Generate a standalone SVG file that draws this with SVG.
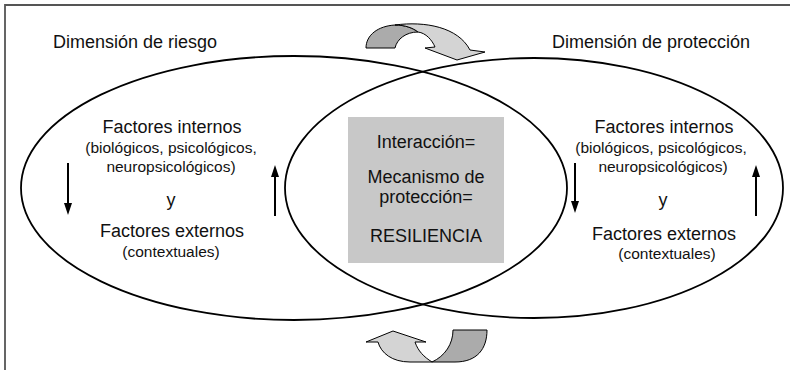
<svg xmlns="http://www.w3.org/2000/svg" width="795" height="382" viewBox="0 0 795 382">
<style>
  text { font-family: "Liberation Sans", Arial, sans-serif; fill: #111; text-anchor: middle; }
  .big { font-size: 18px; }
  .small { font-size: 15.5px; }
  .ell { fill: none; stroke: #000; stroke-width: 1.8; }
  .arr { stroke: #000; stroke-width: 2; fill: none; }
  .head { fill: #000; }
  .light { fill: #d4d4d4; stroke: #000; stroke-width: 1; stroke-linejoin: round; }
  .dark { fill: #ababab; stroke: #000; stroke-width: 1; stroke-linejoin: round; }
</style>
<rect width="795" height="382" fill="#fff"/>
<path d="M5,370 L5,5 L790,5" fill="none" stroke="#555" stroke-width="1.8"/>

<g id="ellipses">
  <ellipse id="riesgo-ellipse" class="ell" cx="294" cy="188" rx="273" ry="132"/>
  <ellipse id="proteccion-ellipse" class="ell" cx="534" cy="188" rx="249" ry="130"/>
</g>

<g id="titles">
  <text class="big" x="135" y="48">Dimensión de riesgo</text>
  <text class="big" x="651" y="48">Dimensión de protección</text>
</g>

<g id="left-node">
  <text class="big" x="172" y="133">Factores internos</text>
  <text class="small" x="171" y="153">(biológicos, psicológicos,</text>
  <text class="small" x="171" y="172">neuropsicológicos)</text>
  <text class="big" x="171" y="206">y</text>
  <text class="big" x="172" y="237">Factores externos</text>
  <text class="small" x="171" y="257">(contextuales)</text>
</g>

<g id="center-node">
  <rect x="348" y="117" width="156" height="146" fill="#c8c8c8"/>
  <text class="big" x="426" y="148">Interacción=</text>
  <text class="big" x="426" y="183">Mecanismo de</text>
  <text class="big" x="426" y="203">protección=</text>
  <text class="big" x="426" y="242">RESILIENCIA</text>
</g>

<g id="right-node">
  <text class="big" x="664" y="133">Factores internos</text>
  <text class="small" x="661" y="153">(biológicos, psicológicos,</text>
  <text class="small" x="663" y="172">neuropsicológicos)</text>
  <text class="big" x="663" y="206">y</text>
  <text class="big" x="664" y="240">Factores externos</text>
  <text class="small" x="667" y="259">(contextuales)</text>
</g>

<g id="connectors">
  <line class="arr" x1="68" y1="163" x2="68" y2="204"/>
  <path class="head" d="M64,203 L72,203 L68,215 Z"/>
  <line class="arr" x1="275" y1="216" x2="275" y2="176"/>
  <path class="head" d="M271,177 L279,177 L275,165 Z"/>
  <line class="arr" x1="575" y1="163" x2="575" y2="202"/>
  <path class="head" d="M571,201 L579,201 L575,213 Z"/>
  <line class="arr" x1="756" y1="216" x2="756" y2="176"/>
  <path class="head" d="M752,177 L760,177 L756,165 Z"/>

  <g id="top-curved-arrow">
    <path class="dark" d="M366,48 C366,35 378,26 395,25 C405,25 413,28 418,32 C406,32 397,39 395,48 Z"/>
    <path class="light" d="M395,25 C425,21 458,27 470,50 L485,52 L457,60 L425,48 L435,47 C432,40 426,33 418,32 C413,28 405,25 395,25 Z"/>
  </g>
  <g id="bottom-curved-arrow">
    <path class="dark" d="M453,330 L487,330 C487,349 477,362 455,362 L432,362 C445,356 453,344 453,330 Z"/>
    <path class="light" d="M432,362 L410,362 C392,362 381,353 378,342 L366,342 L393,331 L426,342 L415,342 C418,351 424,357 432,362 Z"/>
  </g>
</g>
</svg>
